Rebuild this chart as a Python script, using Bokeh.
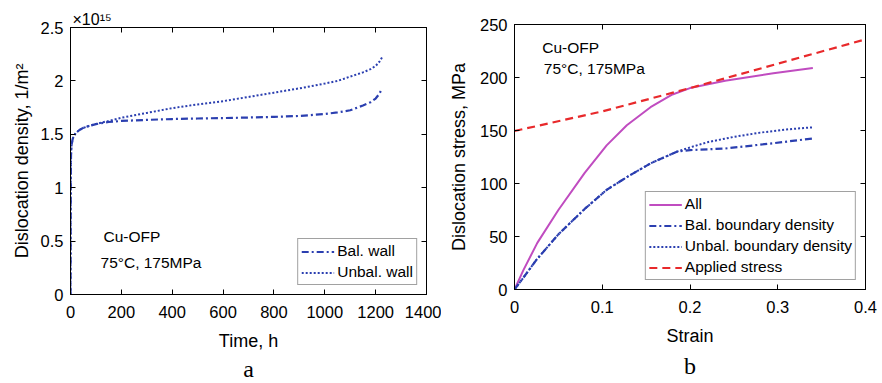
from bokeh.plotting import figure
from bokeh.models import Range1d, LinearAxis, FixedTicker, Label, Legend, Title
from bokeh.layouts import row, column
from bokeh.embed import file_html
from bokeh.resources import INLINE

# ---- Panel a data (density in units of 1e15 1/m^2) ----
time_h = [0, 0.5, 1, 2, 3, 5, 8, 12, 20, 35, 50, 75, 100, 150, 200, 300, 400, 500, 600, 700,
          800, 900, 1000, 1050, 1100, 1150, 1180, 1200, 1215, 1225]
bal_wall = [0, 0.6, 1.05, 1.3, 1.36, 1.41, 1.45, 1.48, 1.51, 1.54, 1.56, 1.58, 1.595, 1.615, 1.625,
            1.635, 1.643, 1.648, 1.652, 1.657, 1.663, 1.672, 1.69, 1.705, 1.725, 1.77, 1.80, 1.835, 1.88, 1.93]
unbal_wall = [0, 0.6, 1.05, 1.3, 1.36, 1.41, 1.45, 1.48, 1.51, 1.54, 1.56, 1.58, 1.597, 1.625, 1.655,
              1.70, 1.745, 1.78, 1.81, 1.85, 1.89, 1.93, 1.975, 2.0, 2.04, 2.08, 2.11, 2.14, 2.18, 2.22]
a_xticks = [0, 200, 400, 600, 800, 1000, 1200, 1400]
a_yticks = [0, 0.5, 1, 1.5, 2, 2.5]

# ---- Panel b data ----
strain_all = [0, 0.01, 0.026, 0.05, 0.08, 0.105, 0.128, 0.155, 0.18, 0.2, 0.24, 0.295, 0.34]
stress_all = [0, 18, 44, 75, 110, 136, 155, 172, 184, 190, 197, 204, 209]
strain_bd = [0, 0.01, 0.025, 0.05, 0.08, 0.105, 0.128, 0.155, 0.185, 0.2, 0.24, 0.295, 0.34]
stress_bal = [0, 11, 28, 52, 76, 94, 106, 119, 130, 131.5, 133, 138, 142.5]
strain_ub = [0, 0.01, 0.025, 0.05, 0.08, 0.105, 0.128, 0.155, 0.185, 0.2, 0.22, 0.25, 0.28, 0.31, 0.34]
stress_unbal = [0, 11, 28, 52, 76, 94, 106, 119, 130, 134, 139, 144, 148, 151, 153]
strain_app = [0, 0.1, 0.2, 0.3, 0.4]
stress_app = [149.5, 168, 190, 213, 236]
b_xticks = [0, 0.1, 0.2, 0.3, 0.4]
b_yticks = [0, 50, 100, 150, 200, 250]

FONT = "Liberation Sans"
BLUE = "#2b3fb0"
RED = "#e8292b"
MAG = "#c04cc0"
TICK_FS = "16.5px"
LABEL_FS = "18px"


def style_axis(ax, ticks, labels=True, overrides=None, standoff=7):
    ax.ticker = FixedTicker(ticks=ticks)
    ax.major_tick_in = 5
    ax.major_tick_out = 0
    ax.minor_tick_line_color = None
    ax.axis_line_color = "black"
    ax.major_tick_line_color = "black"
    ax.major_label_text_font = FONT
    ax.major_label_text_color = "black"
    ax.axis_label_text_font = FONT
    ax.axis_label_text_font_style = "normal"
    ax.axis_label_text_font_size = LABEL_FS
    ax.axis_label_text_color = "black"
    if labels:
        ax.major_label_text_font_size = TICK_FS
        ax.major_label_standoff = standoff
        if overrides:
            ax.major_label_overrides = overrides
    else:
        ax.major_label_text_font_size = "1px"
        ax.major_label_standoff = 0
        ax.axis_label_standoff = 0
        ax.major_label_overrides = {t: "" for t in ticks}


def make_fig(width, height, xr, yr, bl, br, bt, bb, title):
    p = figure(width=width, height=height, x_range=xr, y_range=yr, title=title,
               output_backend="svg", toolbar_location=None,
               min_border_left=bl, min_border_right=br, min_border_top=bt, min_border_bottom=bb)
    p.xgrid.visible = False
    p.ygrid.visible = False
    p.outline_line_color = "black"
    p.background_fill_color = "white"
    p.border_fill_color = "white"
    return p


def caption(text, standoff):
    return Title(text=text, align="center", text_font="Liberation Serif", text_font_size="24px",
                 text_font_style="normal", text_color="black", standoff=standoff)


# ---------------- Panel a ----------------
pa = make_fig(441, 383, Range1d(0, 1400), Range1d(0, 2.5), 70, 15, 27, 89, "×10¹⁵")
style_axis(pa.xaxis[0], a_xticks, standoff=11)
style_axis(pa.yaxis[0], a_yticks, overrides={0: "0", 0.5: "0.5", 1: "1", 1.5: "1.5", 2: "2", 2.5: "2.5"})
pa.xaxis[0].axis_label = "Time, h"
pa.yaxis[0].axis_label = "Dislocation density, 1/m²"
pa.xaxis[0].axis_label_standoff = 10
pa.yaxis[0].axis_label_standoff = 6
ax_top = LinearAxis(); style_axis(ax_top, a_xticks, labels=False)
ax_right = LinearAxis(); style_axis(ax_right, a_yticks, labels=False)
pa.add_layout(ax_top, "above")
pa.add_layout(ax_right, "right")
pa.title.align = "left"
pa.title.offset = 2
pa.title.standoff = 0
pa.title.text_font = FONT
pa.title.text_font_size = "16px"
pa.title.text_font_style = "normal"
pa.title.text_color = "black"
pa.add_layout(caption("a", 0), "below")

la1 = pa.line(time_h, bal_wall, line_color=BLUE, line_width=2.2, line_dash="7 3 2 3")
la2 = pa.line(time_h, unbal_wall, line_color=BLUE, line_width=2.0, line_dash="2 2")
leg_a = Legend(items=[("Bal. wall", [la1]), ("Unbal. wall", [la2])], location="bottom_right")
pa.add_layout(leg_a)

pa.add_layout(Label(x=130, y=0.543, text="Cu-OFP", text_font=FONT, text_font_size="15.5px",
                    text_baseline="middle", text_color="black"))
pa.add_layout(Label(x=118, y=0.30, text="75°C, 175MPa", text_font=FONT, text_font_size="15.5px",
                    text_baseline="middle", text_color="black"))

# ---------------- Panel b ----------------
pb = make_fig(441, 383, Range1d(0, 0.4), Range1d(0, 250), 73, 17, 24, 94, None)
style_axis(pb.xaxis[0], b_xticks, overrides={0: "0"}, standoff=11)
style_axis(pb.yaxis[0], b_yticks)
pb.xaxis[0].axis_label = "Strain"
pb.yaxis[0].axis_label = "Dislocation stress, MPa"
pb.xaxis[0].axis_label_standoff = 10
pb.yaxis[0].axis_label_standoff = 8
bx_top = LinearAxis(); style_axis(bx_top, b_xticks, labels=False)
bx_right = LinearAxis(); style_axis(bx_right, b_yticks, labels=False)
pb.add_layout(bx_top, "above")
pb.add_layout(bx_right, "right")
pb.add_layout(caption("b", 4), "below")

lb1 = pb.line(strain_all, stress_all, line_color=MAG, line_width=2.0)
lb2 = pb.line(strain_bd, stress_bal, line_color=BLUE, line_width=2.2, line_dash="7 3 2 3")
lb3 = pb.line(strain_ub, stress_unbal, line_color=BLUE, line_width=2.0, line_dash="2 2")
lb4 = pb.line(strain_app, stress_app, line_color=RED, line_width=2.2, line_dash="8 5")
leg_b = Legend(items=[("All", [lb1]), ("Bal. boundary density", [lb2]),
                      ("Unbal. boundary density", [lb3]), ("Applied stress", [lb4])],
               location="bottom_right")
pb.add_layout(leg_b)

pb.add_layout(Label(x=0.0316, y=228.6, text="Cu-OFP", text_font=FONT, text_font_size="15.5px",
                    text_baseline="middle", text_color="black"))
pb.add_layout(Label(x=0.0334, y=208.2, text="75°C, 175MPa", text_font=FONT, text_font_size="15.5px",
                    text_baseline="middle", text_color="black"))

for leg in (leg_a, leg_b):
    leg.margin = 9
    leg.padding = 3
    leg.spacing = 3
    leg.glyph_width = 33
    leg.glyph_height = 17
    leg.label_height = 17
    leg.label_standoff = 3
    leg.label_text_font = FONT
    leg.label_text_font_size = "15.5px"
    leg.label_text_color = "black"
    leg.border_line_color = "#444444"
    leg.border_line_width = 1.5
    leg.background_fill_color = "white"
    leg.background_fill_alpha = 1.0

layout = row(column(pa), column(pb))
open("out.html", "w").write(file_html(layout, INLINE))
